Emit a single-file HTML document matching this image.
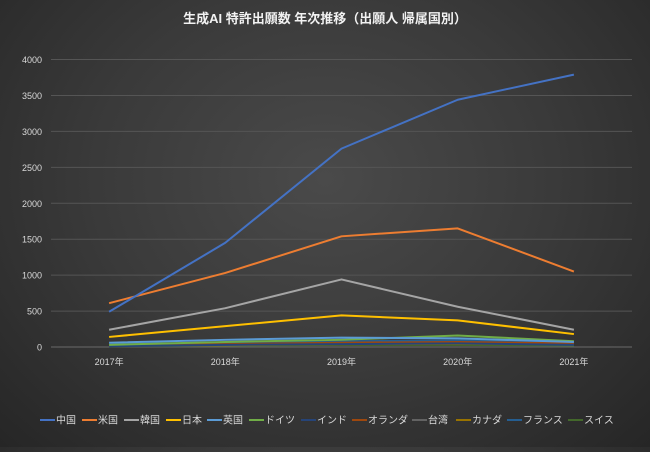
<!DOCTYPE html>
<html><head><meta charset="utf-8"><style>
html,body{margin:0;padding:0}
body{width:650px;height:447px;overflow:hidden;background:radial-gradient(ellipse at 50% 40%,#4a4a4a 0%,#3a3a3a 50%,#262626 100%);font-family:"Liberation Sans","Noto Sans CJK JP",sans-serif}
svg text{font-family:"Liberation Sans","Noto Sans CJK JP",sans-serif}
</style></head><body>
<svg id="chart" width="650" height="447" xmlns="http://www.w3.org/2000/svg">
<text x="325" y="23" text-anchor="middle" fill="#f2f2f2" font-size="13" font-weight="bold">生成AI 特許出願数 年次推移（出願人 帰属国別）</text>
<g id="grid"></g><g id="ylab"></g><g id="xlab"></g><g id="lines"></g><g id="legend"></g>
</svg>
<script>
const categories=["2017年","2018年","2019年","2020年","2021年"];
const yTicks=[0,500,1000,1500,2000,2500,3000,3500,4000];
const seriesNames=["中国","米国","韓国","日本","英国","ドイツ","インド","オランダ","台湾","カナダ","フランス","スイス"];
const seriesColors=["#4472c4","#ed7d31","#a5a5a5","#ffc000","#5b9bd5","#70ad47","#264478","#9e480e","#636363","#997300","#255e91","#43682b"];
const china=[490,1450,2760,3440,3790];
const usa=[610,1030,1540,1650,1050];
const korea=[240,540,940,560,240];
const japan=[140,290,440,370,180];
const uk=[60,100,130,120,70];
const germany=[30,70,100,160,80];
const india=[10,30,40,50,30];
const netherlands=[20,40,60,70,50];
const taiwan=[20,30,50,60,40];
const canada=[15,25,40,45,40];
const france=[40,60,80,90,60];
const swiss=[10,20,30,30,20];
const seriesData=[china,usa,korea,japan,uk,germany,india,netherlands,taiwan,canada,france,swiss];
const NS="http://www.w3.org/2000/svg";
const x0=51,x1=632,yBase=347,yTop=59.5,yMax=4000;
const xs=i=>x0+(x1-x0)/categories.length*(i+0.5);
const ys=v=>yBase-(yBase-yTop)*v/yMax;
function mk(t,a,p){const e=document.createElementNS(NS,t);for(const k in a)e.setAttribute(k,a[k]);p.appendChild(e);return e;}
const grid=document.getElementById('grid'),ylab=document.getElementById('ylab'),xlab=document.getElementById('xlab'),lines=document.getElementById('lines'),legend=document.getElementById('legend');
yTicks.forEach(v=>{
 const l=mk('line',{x1:x0,x2:x1,y1:ys(v),y2:ys(v),stroke:v===0?'#6a6a6a':'#555','stroke-width':1},grid);
 
 
 const t=mk('text',{x:42,y:ys(v)+3.5,'text-anchor':'end',fill:'#d9d9d9','font-size':9},ylab);
 t.textContent=v;
 
 
});
categories.forEach((c,i)=>{
 const t=mk('text',{x:xs(i),y:365,'text-anchor':'middle',fill:'#d9d9d9','font-size':9},xlab);
 t.textContent=c;
 
 
});
for(let s=seriesData.length-1;s>=0;s--){
 const pts=seriesData[s].map((v,i)=>xs(i)+','+ys(v)).join(' ');
 const p=mk('polyline',{points:pts,fill:'none',stroke:seriesColors[s],'stroke-width':2,'stroke-linejoin':'round'},lines);
 
 
}
const lx=[40,82,124,166,207,249,301,352,412,456,507,568];
seriesNames.forEach((n,i)=>{
 const g=mk('g',{},legend);
 
 
 mk('line',{x1:lx[i],x2:lx[i]+15,y1:420,y2:420,stroke:seriesColors[i],'stroke-width':2},g);
 const t=mk('text',{x:lx[i]+16,y:423.5,fill:'#d9d9d9','font-size':10},g);
 t.textContent=n;
});
</script>
</body></html>
